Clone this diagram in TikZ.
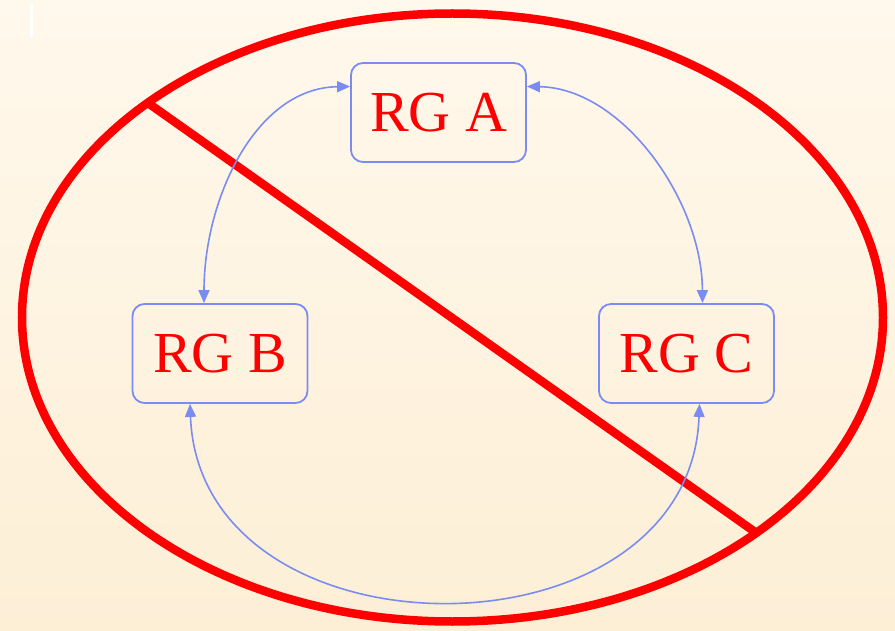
\documentclass[tikz,border=0pt]{standalone}
\usepackage{fontspec}
\setmainfont{Liberation Serif}
\usetikzlibrary{arrows.meta}
\definecolor{bgtop}{HTML}{FFF8EC}
\definecolor{bgbot}{HTML}{FDEFD6}
\definecolor{rgblue}{HTML}{7A8CF2}
\definecolor{rgred}{HTML}{FF0000}
\tikzset{
  rgbox/.style={draw=rgblue, line width=1.8pt, rounded corners=12pt, minimum width=175pt, minimum height=99pt, text=rgred, font=\fontsize{58}{58}\selectfont, inner sep=0pt},
  tip/.tip={Triangle[length=13pt,width=11pt]},
  link/.style={draw=rgblue, fill=none, line width=1.6pt, tip-tip},
  cross/.style={draw=rgred, line width=8.5pt}
}
\begin{document}
\begin{tikzpicture}[x=1pt,y=-1pt]
\shade[top color=bgtop, bottom color=bgbot] (0,0) rectangle (895,631);
\useasboundingbox (0,0) rectangle (895,631);
\fill[white] (29.5,4) rectangle (32.5,37);
\draw[cross] (452.5,317.5) ellipse [x radius=430.5, y radius=304];
\coordinate (d1) at (148,103);
\coordinate (d2) at (755,532);
\draw[cross] (d1) -- (d2);
\node[rgbox] (A) at (438.5,112.5) {RG A};
\node[rgbox] (B) at (220,353.5) {RG B};
\node[rgbox] (C) at (686.5,353.5) {RG C};
\draw[link] ([yshift=26pt]A.west) .. controls (255,88) and (204,200) .. ([xshift=-16pt]B.north);
\draw[link] ([yshift=26pt]A.east) .. controls (622,88) and (702,200) .. ([xshift=16pt]C.north);
\draw[link] ([xshift=-30pt]B.south) .. controls (200,666) and (690,666) .. ([xshift=13pt]C.south);
\end{tikzpicture}
\end{document}
